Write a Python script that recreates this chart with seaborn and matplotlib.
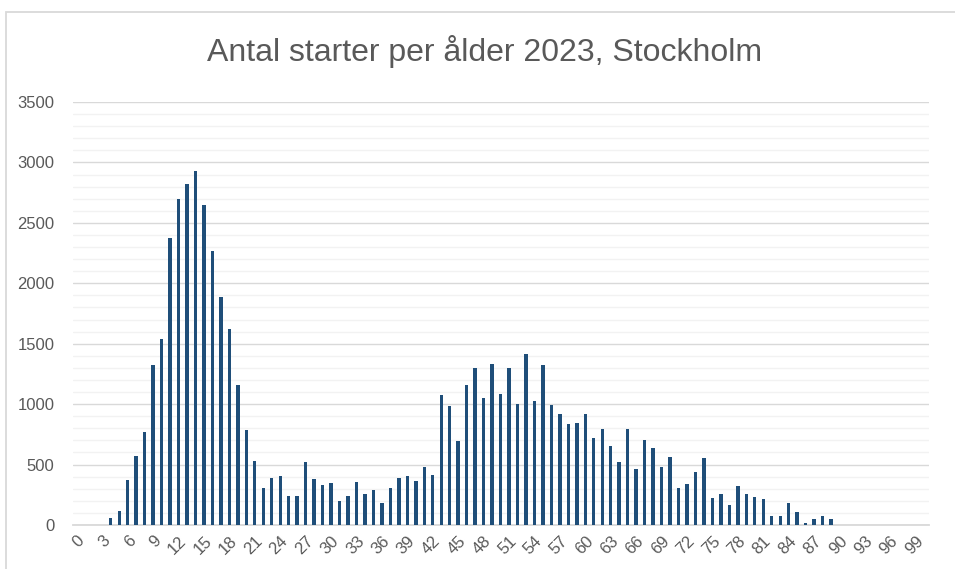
import numpy as np
import pandas as pd
import matplotlib
matplotlib.use("Agg")
import matplotlib.pyplot as plt
import seaborn as sns
from matplotlib.patches import Rectangle

title = "Antal starter per ålder 2023, Stockholm"
ages = list(range(0, 101))
starts = [
    0, 0, 0, 0, 55, 113, 375, 568, 769, 1321,
    1539, 2372, 2695, 2821, 2929, 2650, 2264, 1886, 1622, 1156,
    789, 531, 306, 391, 405, 237, 237, 519, 381, 334,
    345, 201, 243, 359, 254, 292, 185, 306, 386, 408,
    364, 483, 416, 1078, 986, 698, 1158, 1299, 1054, 1332,
    1084, 1299, 1001, 1415, 1026, 1324, 996, 921, 833, 844,
    916, 717, 792, 651, 524, 795, 461, 700, 637, 477,
    560, 306, 339, 439, 552, 221, 256, 163, 323, 254,
    232, 215, 77, 77, 179, 105, 14, 52, 77, 50,
    0, 0, 0, 0, 0, 0, 0, 0, 0, 0, 0,
]
yticks = [0, 500, 1000, 1500, 2000, 2500, 3000, 3500]
xtick_step = 3

df = pd.DataFrame({"age": ages, "starts": starts})

sns.set_theme(style="white")
plt.rcParams["font.family"] = ["Liberation Sans", "DejaVu Sans"]

fig = plt.figure(figsize=(9.55, 5.69), dpi=100)
ax = fig.add_axes([72.6 / 955, 1 - 525 / 569, (928.5 - 72.6) / 955, (525 - 102) / 569])

# chart border
fig.patches.append(Rectangle((5.5 / 955, -0.1), 1.2, 1 - 11.7 / 569 + 0.1,
                             transform=fig.transFigure, fill=False,
                             edgecolor="#d9d9d9", linewidth=1.3, zorder=0))

sns.barplot(data=df, x="age", y="starts", color="#1F4E79", width=0.40,
            saturation=1, linewidth=0, ax=ax, zorder=3)

ax.set_ylim(0, 3500)
ax.set_xlim(-0.5, len(ages) - 0.5)
ax.set_yticks(yticks)
ax.set_yticks(np.arange(0, 3501, 100), minor=True)
ax.grid(axis="y", which="minor", color="#f2f2f2", linewidth=1.0, zorder=0)
ax.grid(axis="y", which="major", color="#d9d9d9", linewidth=1.0, zorder=1)
ax.set_axisbelow(True)

xt = [i for i in range(len(ages)) if ages[i] % xtick_step == 0 and ages[i] <= 99]
ax.set_xticks(xt)
ax.set_xticklabels([str(ages[i]) for i in xt], rotation=45, ha="right",
                   rotation_mode="anchor", fontsize=12, color="#595959")
ax.tick_params(axis="y", which="both", labelsize=12, labelcolor="#595959", length=0, pad=13)
ax.tick_params(axis="x", which="both", length=0, pad=6)
for t in ax.get_yticklabels():
    t.set_color("#595959")

for s in ["top", "right", "left"]:
    ax.spines[s].set_visible(False)
ax.spines["bottom"].set_color("#d9d9d9")
ax.spines["bottom"].set_linewidth(1.3)
ax.set_xlabel("")
ax.set_ylabel("")

fig.text(485 / 955, 1 - 51 / 569, title, ha="center", va="center",
         fontsize=23, color="#595959")

fig.savefig("out.png", dpi=100, facecolor="white")
